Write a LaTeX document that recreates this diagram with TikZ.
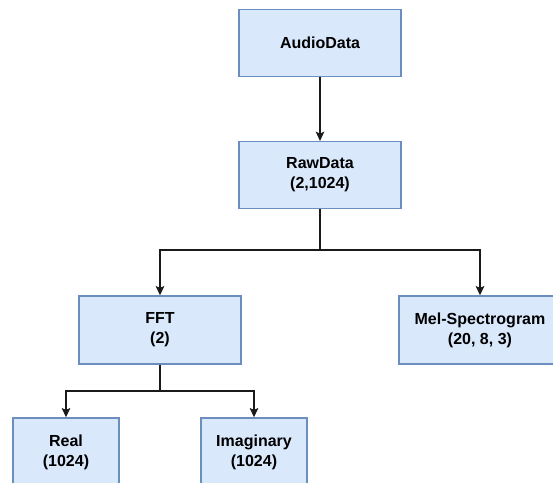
\documentclass[tikz,border=0pt]{standalone}
\usepackage{fontspec}
\setmainfont{Liberation Sans}
\usetikzlibrary{arrows.meta}
\definecolor{boxfill}{HTML}{DAE8FC}
\definecolor{boxline}{HTML}{6C8EBF}
\definecolor{wire}{HTML}{1A1A1A}

\begin{document}
\begin{tikzpicture}[x=0.75pt,y=0.75pt,yscale=-1,xscale=1,
  block/.style={draw=boxline,fill=boxfill,line width=1.1pt,minimum width=121.5pt,minimum height=50pt,
    align=center,inner sep=0pt,font=\fontsize{12pt}{15pt}\selectfont\bfseries},
  leaf/.style={block,minimum width=79.5pt},
  wire/.style={draw=wire,line width=0.8pt},
  arr/.style={wire,-{Stealth[length=7pt,width=6.5pt,inset=1.5pt]}}]
\useasboundingbox (0,0) rectangle (553,482);
\clip (0,0) rectangle (553,482);

%Boxes
\node [block] (audio) at (320,43) {AudioData};
\node [block] (raw) at (320,175) {RawData\\(2,1024)};
\node [block,minimum height=51pt] (fft) at (160,330) {FFT\\(2)};
\node [block,minimum height=51pt] (mel) at (480,330) {Mel-Spectrogram\\(20, 8, 3)};
\node [leaf,minimum height=51pt] (real) at (66,452) {Real\\(1024)};
\node [leaf,minimum height=51pt] (imag) at (254,452) {Imaginary\\(1024)};

%Branch points
\coordinate (rawsplit) at (320,250);
\coordinate (fftsplit) at (160,391);

%Connectors
\draw [arr] (audio) -- (raw);
\draw [wire] (raw) -- (rawsplit);
\draw [arr] (rawsplit) -| (fft);
\draw [arr] (rawsplit) -| (mel);
\draw [wire] (fft) -- (fftsplit);
\draw [arr] (fftsplit) -| (real);
\draw [arr] (fftsplit) -| (imag);
\end{tikzpicture}
\end{document}
